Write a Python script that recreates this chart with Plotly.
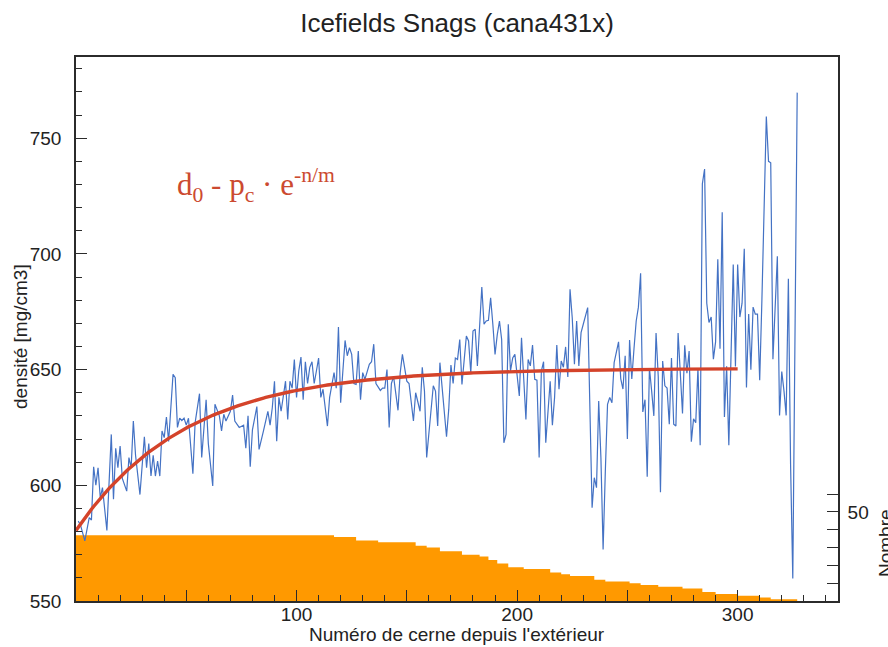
import math
import plotly.graph_objects as go

# ---------------- text ----------------
title_text = "Icefields Snags (cana431x)"
x_title = "Numéro de cerne depuis l'extérieur"
y_title = "densité [mg/cm3]"
count_title = "Nombre"
formula_text = "d<sub>0</sub> - p<sub>c</sub> · e<sup>-n/m</sup>"

# ---------------- mean density per ring ----------------
ring_no = [
    1, 2, 4, 6, 7, 8, 9, 10, 11, 12, 14, 16, 17, 18, 19, 20, 21, 23, 24, 25,
    26, 27, 29, 30, 31, 32, 33, 34, 35, 36, 37, 38, 39, 40, 41, 42, 44, 45, 46, 47,
    48, 49, 50, 51, 53, 54, 56, 57, 59, 60, 62, 63, 65, 66, 67, 68, 70, 71, 72, 74,
    76, 77, 78, 79, 80, 82, 83, 85, 86, 87, 88,
    89, 90, 91, 92, 93, 95, 96, 97, 98, 99, 100, 101, 102, 103, 104, 105, 106, 107, 108, 109,
    110, 111, 112, 114, 115, 117, 118, 119, 120, 121, 122, 123, 124, 125, 126, 127, 128, 129, 130, 131,
    133, 134, 135, 136, 138, 139, 140, 141, 142, 143, 144, 146, 147, 148, 150, 151, 152, 153, 154, 156,
    157, 158, 159, 161, 162, 163, 164, 165, 167, 168, 169, 170, 171, 172, 173, 174,
    175, 177, 178, 179, 180, 181, 182, 183, 184, 185, 186, 187, 188, 189, 190, 191, 192, 193, 194, 195,
    196, 197, 198, 199, 200, 201, 202, 203, 204, 205, 206, 207, 208, 209, 210, 211, 212, 213, 214, 215,
    216, 217, 218, 219, 220, 221, 222, 223, 224, 225, 226, 227, 228, 229, 230, 232, 234, 235, 236, 237,
    238, 239, 240, 241, 242, 243, 244, 246, 247, 248, 249, 250, 251, 252, 253, 254, 255, 256, 257, 258,
    259, 260, 261, 262, 263, 264, 265, 266, 267, 268, 269, 270, 271, 272, 273, 274, 275, 276, 277, 278,
    279, 280, 281, 282, 283, 284, 285, 286, 287, 288, 289, 290, 291, 292, 293, 294, 295, 296, 297, 298,
    299, 300, 301, 302, 303, 304, 305, 306, 307, 308, 309, 310, 311, 312, 313, 314, 315, 316, 317, 318,
    319, 320, 321, 322, 323, 324, 325, 326, 327,
]
density = [
    584.5, 583, 576, 586, 585, 608, 600, 607.6, 594.6, 599, 580.5, 622, 594, 616, 607.6, 617, 603, 597.5, 612, 607.6,
    627.8, 613, 596, 607.6, 621, 607.6, 618, 604, 613, 604, 610.5, 604, 623.5, 620.6, 629.5, 619, 648, 646.5, 625, 629,
    628, 629, 626, 629, 605, 627, 639.6, 612, 637, 618, 599.7, 635, 630, 623.5, 630.7, 627.8, 632, 639, 627.8, 625,
    626, 616, 630, 608, 624, 634, 615.5, 623.5, 627.8, 632, 626,
    633.5, 645, 619, 638, 632, 645, 628.5, 645, 642, 654.4, 638, 649.4, 655.4, 637, 653.4, 644, 651, 653.4, 644, 649.4,
    655, 638, 641.5, 625.6, 638, 648.7, 642, 668.4, 635.7, 649.4, 662.6, 656, 659.5, 656.6, 644, 643.6, 658, 637, 648.7, 645.8,
    652.3, 653.4, 661, 644, 641, 642, 642, 650, 625, 644, 647, 632.4, 648.7, 656.6, 645, 644, 637, 627.8, 640, 632,
    651, 640.7, 612, 632, 643, 640.7, 625.6, 653, 631, 621, 632.8, 652, 644, 655, 654.4, 663,
    643.6, 664.5, 662.4, 648.7, 666.7, 667.4, 651.6, 671, 685.7, 669.6, 671, 671.3, 681, 669.6, 656.6, 665, 671, 663, 618.4, 622,
    669.6, 649.4, 655, 656.6, 648, 638.6, 663.8, 643, 628.5, 654.4, 651.6, 660.6, 645.8, 645.4, 612, 649.4, 653.4, 618.4, 632, 645,
    626, 638, 660.6, 641.5, 653.7, 651, 659.8, 646.8, 684.7, 672.4, 652.3, 671, 651.6, 666, 669.6, 676.8, 590.3, 603.3, 599, 636.4,
    612, 572.3, 606, 635, 638, 635.7, 653, 662, 646, 641.6, 656, 620, 662.8, 646, 659, 671, 677, 691.6, 631.7, 637,
    603.7, 650.7, 640.8, 630, 665.8, 647, 597, 653.7, 643, 642, 626.4, 655, 626.4, 625.6, 665.8, 647, 631, 660.5, 648.4, 658,
    618.8, 628.7, 627, 650.7, 617.3, 730.3, 736.7, 678.7, 670.4, 672.7, 654.5, 662, 697.7, 659, 718, 629.5, 651.4, 617.3, 650.7, 695.4,
    651.4, 695.4, 672.7, 678.7, 702.2, 642.3, 674, 650, 677, 674, 674, 645.4, 680.2, 724.2, 759.4, 740, 739.4, 654.5, 677, 699,
    630.2, 649.2, 640.8, 630.2, 689.3, 609, 559.7, 662, 769.7,
]

# ---------------- sample depth (number of series), as steps ----------------
step_first_ring = [1, 118, 128, 138, 155, 160, 166, 176, 184, 188, 192, 197, 204, 216,
                   221, 225, 236, 241, 252, 257, 265, 276, 285, 291, 301, 311, 316]
step_count = [37, 36, 34, 33, 31, 30, 28, 26, 25, 23, 21, 19, 18, 16,
              15, 14, 12, 11, 10, 9, 8, 7, 5, 4, 3, 2, 1]
depth_last_ring = 327

# ---------------- fitted model d0 - pc * exp(-n/m) ----------------
fit_d0 = 650.5
fit_pc = 70.0
fit_m = 50.0
fit_last_ring = 300

# ---------------- build ----------------
depth_x = [r - 1 for r in step_first_ring] + [depth_last_ring]
depth_y = step_count + [step_count[-1]]

fit_x = list(range(0, fit_last_ring + 1))
fit_y = [fit_d0 - fit_pc * math.exp(-n / fit_m) for n in fit_x]

FONT = "Liberation Sans, Arial, sans-serif"
AX = "#2b2b2b"
L, R, T, B, W, H = 76, 50, 57, 46, 888, 647
PW, PH = W - L - R, H - T - B


def px_x(px):
    return (px - L) / PW


def px_y(py):
    return (H - B - py) / PH


fig = go.Figure()
fig.add_trace(go.Scatter(
    x=depth_x, y=depth_y, mode="lines", yaxis="y",
    line=dict(width=0, shape="hv", color="#ff9900"),
    fill="tozeroy", fillcolor="#ff9900", showlegend=False, hoverinfo="skip",
))
fig.add_trace(go.Scatter(
    x=ring_no, y=density, mode="lines", yaxis="y2",
    line=dict(color="#4472c4", width=1.2), showlegend=False,
))
fig.add_trace(go.Scatter(
    x=fit_x, y=fit_y, mode="lines", yaxis="y2",
    line=dict(color="#d4432a", width=3.4), showlegend=False,
))

fig.update_layout(
    width=W, height=H,
    margin=dict(l=L, r=R, t=T, b=B, autoexpand=False),
    paper_bgcolor="white", plot_bgcolor="white",
    font=dict(family=FONT, size=19, color="#222"),
    title=dict(text=title_text, x=0.5, xref="paper", xanchor="center",
               y=1 - 23 / H, yref="container", yanchor="middle", automargin=False,
               font=dict(size=26, family=FONT, color="#222")),
    xaxis=dict(
        range=[0, 345.5], showgrid=False, zeroline=False, automargin=False,
        showline=True, linecolor=AX, linewidth=1.6, mirror=True,
        tickmode="array", tickvals=[50, 100, 150, 200, 250, 300],
        ticktext=["", "100", "", "200", "", "300"],
        ticks="inside", ticklen=11, tickwidth=1.3, tickcolor=AX,
        minor=dict(tick0=0, dtick=10, ticks="inside", ticklen=6, tickwidth=1.1, tickcolor=AX),
        ticklabelstandoff=-5,
    ),
    yaxis=dict(
        range=[0, 305.6], side="right", showgrid=False, zeroline=False, automargin=False,
        showline=True, linecolor=AX, linewidth=1.6,
        tickmode="array", tickvals=[10, 20, 30, 40, 50, 60],
        ticktext=["", "", "", "", "50", ""],
        ticks="inside", ticklen=11, tickwidth=1.3, tickcolor=AX,
        ticklabelstandoff=4,
    ),
    yaxis2=dict(
        range=[550, 785.1], overlaying="y", side="left", anchor="x",
        showgrid=False, zeroline=False, automargin=False,
        showline=True, linecolor=AX, linewidth=1.6,
        tickmode="array", tickvals=[550, 600, 650, 700, 750],
        ticks="inside", ticklen=11, tickwidth=1.3, tickcolor=AX,
        minor=dict(tick0=550, dtick=10, ticks="inside", ticklen=6, tickwidth=1.1, tickcolor=AX),
        ticklabelstandoff=9,
    ),
    annotations=[
        dict(text=formula_text, x=45, y=730, xref="x", yref="y2",
             xanchor="left", yanchor="middle", showarrow=False,
             font=dict(family="Liberation Serif, Times New Roman, serif", size=31, color="#cc4a30")),
        dict(text=x_title, x=px_x(457), y=px_y(634), xref="paper", yref="paper",
             xanchor="center", yanchor="middle", showarrow=False,
             font=dict(family=FONT, size=19, color="#222")),
        dict(text=y_title, x=px_x(20), y=px_y(337), xref="paper", yref="paper",
             xanchor="center", yanchor="middle", textangle=-90, showarrow=False,
             font=dict(family=FONT, size=19, color="#222")),
        dict(text=count_title, x=px_x(885), y=px_y(543), xref="paper", yref="paper",
             xanchor="center", yanchor="middle", textangle=-90, showarrow=False,
             font=dict(family=FONT, size=19, color="#222")),
    ],
)

fig.write_html("out.html", config={"displayModeBar": False},
               post_script="document.body.style.margin='0px';")
